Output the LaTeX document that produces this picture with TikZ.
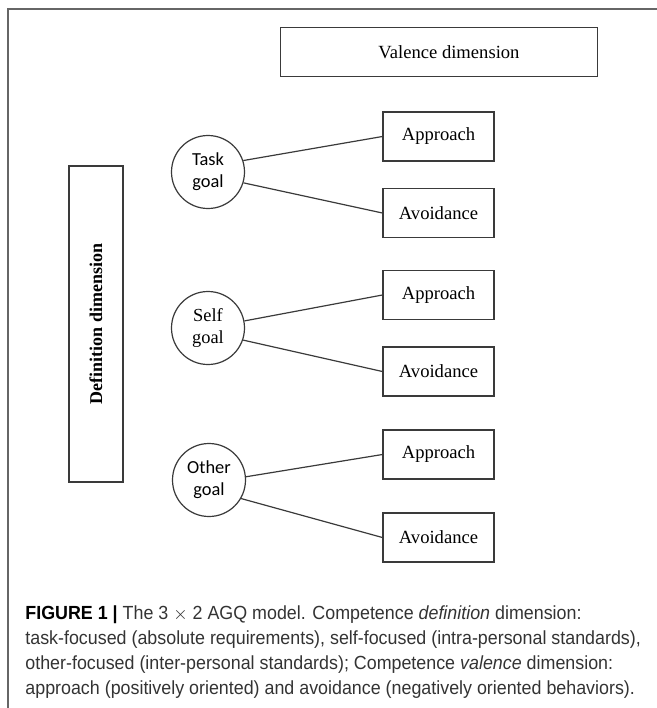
\documentclass[tikz,border=0pt]{standalone}
\usepackage{fontspec}
\setmainfont{Liberation Serif}
\newfontfamily\goalfont{Carlito}
\newfontfamily\capfont[FakeStretch=0.94]{Liberation Sans}
\definecolor{ink}{HTML}{3A3A3A}
\definecolor{captext}{HTML}{333333}
\tikzset{
  frame/.style={draw=gray!80!black, line width=0.6pt},
  valbox/.style={draw=ink, line width=0.6pt, minimum width=158.5pt, minimum height=24.5pt, font=\fontsize{9.3}{11}\selectfont},
  defbox/.style={draw=ink, line width=0.6pt, rotate=90, minimum width=158pt, minimum height=27pt, font=\fontsize{9}{11}\selectfont\bfseries},
  choice/.style={draw=ink, line width=0.6pt, minimum width=55.5pt, minimum height=24.5pt, font=\fontsize{9.3}{11}\selectfont},
  goal/.style={draw=ink, line width=0.6pt, circle, minimum size=36.5pt, inner sep=0pt, align=center, font=\fontsize{9.2}{11}\selectfont},
  link/.style={draw=ink, line width=0.6pt},
  caption/.style={anchor=north west, inner sep=0pt, align=left, text=captext, font=\capfont\fontsize{9.5}{12.6}\selectfont}
}
\begin{document}
\begin{tikzpicture}[x=0.5pt,y=-0.5pt]
\useasboundingbox (0,0) rectangle (657,708);
\draw[frame] (8,708) -- (8,9) -- (657,9);
\draw (439,52) node[valbox](valence) {\hspace*{10pt}Valence dimension};
\draw (96,324) node[defbox](definition) {Definition dimension};
\draw (208,172) node[goal](task) {\goalfont Task\\\goalfont goal};
\draw (208,328) node[goal](self) {Self\\goal};
\draw (209,480) node[goal](other) {\goalfont Other\\\goalfont goal};
\draw (438.5,136.5) node[choice](taskapp) {Approach};
\draw (438.5,213) node[choice](taskavo) {Avoidance};
\draw (438.5,295) node[choice](selfapp) {Approach};
\draw (438.5,371.5) node[choice](selfavo) {Avoidance};
\draw (438.5,454.5) node[choice](otherapp) {Approach};
\draw (438.5,537.5) node[choice](otheravo) {Avoidance};
\draw[link] (task.18) -- (taskapp.west);
\draw[link] (task.-17) -- (taskavo.west);
\draw[link] (self.11) -- (selfapp.west);
\draw[link] (self.-19) -- (selfavo.west);
\draw[link] (other.5) -- (otherapp.west);
\draw[link] (other.-30) -- (otheravo.west);
\draw (25,605) node[caption](cap) {\textcolor{black}{\bfseries FIGURE 1 |} The 3 $\times$ 2 AGQ model. Competence \textit{definition} dimension:\\
task-focused (absolute requirements), self-focused (intra-personal standards),\\
other-focused (inter-personal standards); Competence \textit{valence} dimension:\\
approach (positively oriented) and avoidance (negatively oriented behaviors).};
\end{tikzpicture}
\end{document}
